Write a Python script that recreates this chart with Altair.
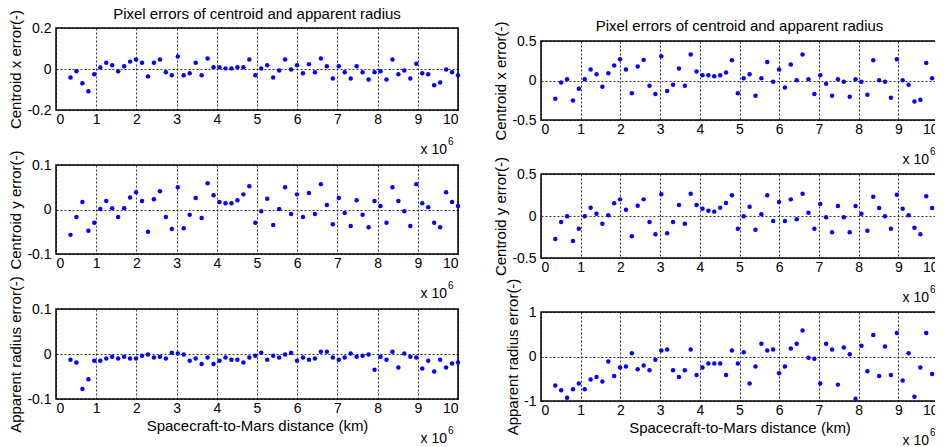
import altair as alt
import pandas as pd

FONT = "Liberation Sans"

# Spacecraft-to-Mars distance, in units of 10^6 km
distance = [
    0.360, 0.508, 0.657, 0.805, 0.953, 1.102, 1.250, 1.398, 1.546, 1.695,
    1.843, 1.991, 2.140, 2.288, 2.436, 2.585, 2.733, 2.881, 3.030, 3.178,
    3.326, 3.475, 3.623, 3.771, 3.919, 4.068, 4.216, 4.364, 4.513, 4.661,
    4.809, 4.958, 5.106, 5.254, 5.403, 5.551, 5.699, 5.848, 5.996, 6.144,
    6.292, 6.441, 6.589, 6.737, 6.886, 7.034, 7.182, 7.331, 7.479, 7.627,
    7.776, 7.924, 8.072, 8.221, 8.369, 8.517, 8.665, 8.814, 8.962, 9.110,
    9.259, 9.407, 9.555, 9.704, 9.852, 10.000,
]

left_x_err = [
    -0.041, -0.011, -0.069, -0.108, -0.026, 0.007, 0.031, 0.018, -0.011, 0.013,
    0.036, 0.046, 0.031, -0.036, 0.031, 0.046, -0.016, -0.031, 0.061, -0.031,
    -0.021, 0.031, -0.031, 0.051, 0.008, 0.008, 0.003, 0.003, 0.008, 0.008,
    0.046, -0.031, 0.002, 0.018, -0.041, -0.007, 0.046, -0.002, 0.018, -0.021,
    0.023, -0.016, 0.051, 0.013, -0.046, 0.013, -0.016, -0.046, 0.013, -0.016,
    -0.051, -0.016, -0.011, -0.051, 0.046, -0.026, -0.007, -0.046, 0.026, -0.021,
    -0.026, -0.079, -0.066, -0.002, -0.016, -0.031,
]
left_y_err = [
    -0.057, -0.017, 0.017, -0.048, -0.030, 0.001, 0.019, 0.003, -0.017, 0.003,
    0.027, 0.039, 0.019, -0.050, 0.023, 0.041, -0.017, -0.044, 0.050, -0.042,
    -0.012, 0.026, -0.019, 0.059, 0.032, 0.017, 0.014, 0.014, 0.021, 0.034,
    0.052, -0.030, -0.004, 0.024, -0.035, 0.001, 0.050, -0.010, 0.034, -0.017,
    0.037, -0.010, 0.057, 0.010, -0.033, 0.026, -0.008, -0.037, 0.021, -0.012,
    -0.040, 0.019, 0.008, -0.030, 0.050, 0.019, -0.004, -0.037, 0.057, 0.014,
    0.005, -0.030, -0.040, 0.039, 0.017, 0.008,
]
left_r_err = [
    -0.013, -0.019, -0.078, -0.056, -0.015, -0.015, -0.010, -0.006, -0.010, -0.006,
    -0.010, -0.010, -0.004, -0.001, -0.008, -0.006, -0.010, 0.003, 0.001, -0.001,
    -0.015, -0.010, -0.022, -0.008, -0.022, -0.015, -0.008, -0.013, -0.013, -0.019,
    -0.008, -0.004, 0.003, -0.013, -0.004, -0.008, -0.001, 0.003, -0.015, -0.008,
    -0.013, -0.010, 0.005, 0.005, -0.008, -0.013, -0.008, 0.001, -0.006, -0.004,
    -0.001, -0.035, -0.006, -0.013, 0.005, -0.030, 0.001, -0.006, -0.008, -0.032,
    -0.015, -0.039, -0.013, -0.030, -0.021, -0.019,
]
right_x_err = [
    -0.231, -0.025, 0.017, -0.252, -0.105, 0.017, 0.139, 0.080, -0.080, 0.092,
    0.189, 0.269, 0.139, -0.160, 0.176, 0.261, -0.067, -0.172, 0.307, -0.134,
    -0.055, 0.151, -0.067, 0.328, 0.113, 0.067, 0.067, 0.055, 0.067, 0.101,
    0.256, -0.160, 0.029, 0.080, -0.193, 0.029, 0.235, -0.017, 0.139, -0.088,
    0.202, 0.004, 0.328, 0.017, -0.172, 0.067, -0.042, -0.193, 0.017, -0.017,
    -0.206, 0.017, -0.017, -0.181, 0.256, 0.004, -0.017, -0.218, 0.269, 0.004,
    -0.055, -0.265, -0.244, 0.223, 0.029, -0.008,
]
right_y_err = [
    -0.274, -0.071, -0.004, -0.298, -0.151, -0.004, 0.099, 0.028, -0.091, 0.008,
    0.151, 0.198, 0.075, -0.242, 0.123, 0.198, -0.071, -0.218, 0.258, -0.206,
    -0.071, 0.131, -0.091, 0.266, 0.131, 0.087, 0.063, 0.052, 0.099, 0.155,
    0.246, -0.151, -0.004, 0.111, -0.163, 0.020, 0.246, -0.060, 0.167, -0.060,
    0.198, -0.040, 0.266, 0.040, -0.151, 0.143, -0.016, -0.194, 0.119, -0.016,
    -0.194, 0.119, 0.028, -0.175, 0.230, 0.095, -0.004, -0.151, 0.254, 0.087,
    0.008, -0.139, -0.218, 0.234, 0.095, 0.008,
]
right_r_err = [
    -0.654, -0.759, -0.925, -0.737, -0.609, -0.737, -0.519, -0.459, -0.564, -0.113,
    -0.436, -0.248, -0.226, 0.075, -0.286, -0.203, -0.308, -0.075, 0.135, 0.158,
    -0.308, -0.459, -0.308, 0.158, -0.414, -0.248, -0.158, -0.158, -0.158, -0.414,
    0.135, -0.158, 0.098, -0.609, -0.226, 0.286, 0.135, 0.158, -0.376, -0.226,
    0.180, 0.286, 0.586, -0.030, -0.053, -0.609, 0.286, 0.158, -0.632, 0.203,
    0.053, -0.947, 0.241, -0.331, 0.481, -0.436, 0.226, -0.414, 0.526, -0.541,
    0.075, -0.902, -0.248, 0.526, -0.391, 0.316,
]

x_ticks = [0, 1, 2, 3, 4, 5, 6, 7, 8, 9, 10]
ticks_02 = [-0.2, 0, 0.2]
ticks_01 = [-0.1, 0, 0.1]
ticks_05 = [-0.5, 0, 0.5]
ticks_1 = [-1, 0, 1]

chart_title = ["Pixel errors of centroid and apparent radius"]
x_title = "Spacecraft-to-Mars distance (km)"
exp_text = ["x 10"]
exp_power = ["6"]


def panel(values, ytitle, yticks, width, height, bottom=False, title_gap=None, exp_gap=11):
    df = pd.DataFrame({"d": distance, "e": values})
    lo, hi = yticks[0], yticks[-1]
    xaxis = alt.Axis(values=x_ticks, format="d", labelPadding=2,
                     title=x_title if bottom else None, titlePadding=3)
    pts = alt.Chart(df).mark_circle(size=20, color="#0000ff", opacity=1).encode(
        x=alt.X("d:Q", scale=alt.Scale(domain=[0, 10], nice=False, zero=False), axis=xaxis),
        y=alt.Y("e:Q", scale=alt.Scale(domain=[lo, hi], nice=False, zero=False),
                axis=alt.Axis(values=yticks, format="~g", labelPadding=5,
                              labelExpr="replace(datum.label, '\u2212', '-')",
                              title=ytitle, titlePadding=3)),
    )
    ex = pd.DataFrame({"t": exp_text, "s": exp_power})
    t1 = alt.Chart(ex).mark_text(align="right", baseline="alphabetic", fontSize=14,
                                 font=FONT, color="black").encode(
        x=alt.value(width - exp_gap), y=alt.value(height + 44), text="t:N")
    t2 = alt.Chart(ex).mark_text(align="left", baseline="alphabetic", fontSize=10,
                                 font=FONT, color="black").encode(
        x=alt.value(width - exp_gap + 1), y=alt.value(height + 35), text="s:N")
    layers = [pts, t1, t2]
    if title_gap is not None:
        tt = alt.Chart(pd.DataFrame({"t": chart_title})).mark_text(
            align="center", baseline="alphabetic", fontSize=15, font=FONT, color="black"
        ).encode(x=alt.value(width / 2), y=alt.value(-title_gap), text="t:N")
        layers.append(tt)
    return alt.layer(*layers).properties(width=width, height=height)


left = alt.vconcat(
    panel(left_x_err, "Centroid x error(-)", ticks_02, 402, 82, title_gap=9),
    panel(left_y_err, "Centroid y error(-)", ticks_01, 402, 89),
    panel(left_r_err, "Apparent radius error(-)", ticks_01, 402, 90, bottom=True),
    spacing=55, bounds="flush",
)

# invisible spacer that lowers the right-hand column
spacer = alt.Chart(pd.DataFrame({"a": [0]})).mark_point(opacity=0).encode(
    x=alt.value(0), y=alt.value(0)
).properties(width=397, height=13, view={"stroke": "transparent"})

right_panels = alt.vconcat(
    panel(right_x_err, "Centroid x error(-)", ticks_05, 397, 79, title_gap=10, exp_gap=9),
    panel(right_y_err, "Centroid y error(-)", ticks_05, 397, 84, exp_gap=9),
    panel(right_r_err, "Apparent radius error(-)", ticks_1, 397, 89, bottom=True, exp_gap=9),
    spacing=54, bounds="flush",
)
right = alt.vconcat(spacer, right_panels, spacing=0, bounds="flush")

chart = alt.hconcat(left, right, spacing=32).properties(
    padding={"left": 0, "top": -2, "right": -6, "bottom": 0}
).configure_view(
    stroke="black", strokeWidth=1.5
).configure_axis(
    labelFont=FONT, labelFontSize=14, labelColor="black",
    titleFont=FONT, titleFontSize=15, titleFontWeight="normal", titleColor="black",
    grid=True, gridColor="black", gridDash=[2, 2], gridWidth=0.8, gridOpacity=1,
    domain=False, ticks=False,
)

chart.save("out.html", embed_options={"renderer": "svg", "actions": False})
